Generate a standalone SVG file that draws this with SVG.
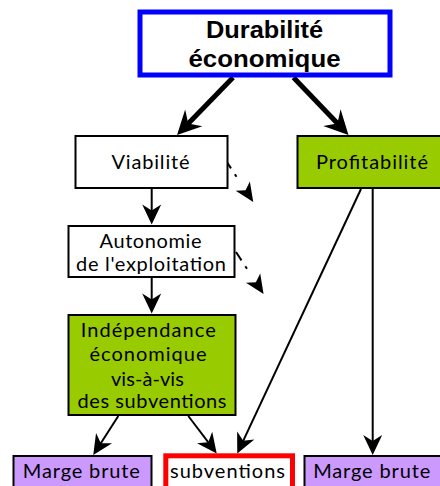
<svg xmlns="http://www.w3.org/2000/svg" width="440" height="486" viewBox="0 0 440 486">
<style>
.box{stroke:#000;stroke-width:2}
.white{fill:#fff}
.green{fill:#99cc00}
.purple{fill:#cc99ff}
.t{font-family:Lato,"Open Sans",sans-serif;font-size:20px;fill:#000;text-anchor:middle}
.tb{font-family:"Liberation Sans",Arial,sans-serif;font-size:24px;font-weight:bold;fill:#000;text-anchor:middle}
.thin{stroke:#000;stroke-width:2;fill:none;marker-end:url(#ah)}
.thick{stroke:#000;stroke-width:5;fill:none;marker-end:url(#ahb)}
.dd{stroke:#000;stroke-width:2;fill:none;stroke-dasharray:10 7 3 40;marker-end:url(#ahd)}
</style>
<defs>
<marker id="ah" markerUnits="userSpaceOnUse" viewBox="-15 -11 22 22" refX="0" refY="0" markerWidth="22" markerHeight="22" orient="auto" overflow="visible">
<path d="M6,0 L-14,-9.5 L-8,0 L-14,9.5 Z" fill="#000"/>
</marker>
<marker id="ahb" markerUnits="userSpaceOnUse" viewBox="-15 -13 30 26" refX="0" refY="0" markerWidth="30" markerHeight="26" orient="auto" overflow="visible">
<path d="M12,0 L-12,-12 L-4,0 L-12,12 Z" fill="#000"/>
</marker>
<marker id="ahd" markerUnits="userSpaceOnUse" viewBox="-15 -9 22 18" refX="0" refY="0" markerWidth="22" markerHeight="18" orient="auto" overflow="visible">
<path d="M5,0 L-14,-8.5 L-9,0 L-14,8.5 Z" fill="#000"/>
</marker>
</defs>

<g id="connectors">
<line class="thick" x1="233" y1="77.5" x2="185.4" y2="126.4"/>
<line class="thick" x1="293.5" y1="77.5" x2="340.2" y2="126.3"/>
<line class="thin" x1="151.7" y1="189" x2="151.7" y2="218.5"/>
<line class="thin" x1="151.7" y1="278" x2="151.7" y2="307.5"/>
<line class="thin" x1="118.3" y1="416" x2="96.5" y2="450"/>
<line class="thin" x1="188.3" y1="416" x2="213.1" y2="448.7"/>
<line class="thin" x1="361" y1="189" x2="239.8" y2="448.1"/>
<line class="thin" x1="372.7" y1="189" x2="372.7" y2="449"/>
<line class="dd" x1="225.5" y1="160" x2="250.5" y2="197.8"/>
<line class="dd" x1="236" y1="252" x2="260.8" y2="289.8"/>
</g>

<g id="durabilite">
<rect x="140" y="12" width="250" height="63" fill="#fff" stroke="#0000ff" stroke-width="5"/>
<text class="tb" x="264.5" y="37.5" textLength="117" lengthAdjust="spacingAndGlyphs">Durabilité</text>
<text class="tb" x="264.5" y="66.5" textLength="152" lengthAdjust="spacingAndGlyphs">économique</text>
</g>

<g id="viabilite">
<rect class="box white" x="75.5" y="136" width="152" height="52"/>
<text class="t" x="150.5" y="169" textLength="78" lengthAdjust="spacing">Viabilité</text>
</g>

<g id="profitabilite">
<rect class="box green" x="297.5" y="136" width="150" height="52"/>
<text class="t" x="372" y="168.5" textLength="112" lengthAdjust="spacing">Profitabilité</text>
</g>

<g id="autonomie">
<rect class="box white" x="68.5" y="226" width="166" height="51"/>
<text class="t" x="150.5" y="247.5" textLength="102" lengthAdjust="spacing">Autonomie</text>
<text class="t" x="151" y="270.5" textLength="150" lengthAdjust="spacing">de l'exploitation</text>
</g>

<g id="independance">
<rect class="box green" x="68.5" y="315" width="167" height="100"/>
<text class="t" x="148.2" y="336.7" textLength="135" lengthAdjust="spacing">Indépendance</text>
<text class="t" x="148" y="360.7" textLength="117" lengthAdjust="spacing">économique</text>
<text class="t" x="147.4" y="385.5" textLength="73" lengthAdjust="spacing">vis-à-vis</text>
<text class="t" x="152" y="407.5" textLength="149" lengthAdjust="spacing">des subventions</text>
</g>

<g id="marge-brute-1">
<rect class="box purple" x="13.5" y="456" width="138" height="40"/>
<text class="t" x="81.3" y="478.3" textLength="117" lengthAdjust="spacing">Marge brute</text>
</g>

<g id="subventions">
<rect x="165.8" y="455.8" width="126.7" height="40" fill="#fff" stroke="#ff0000" stroke-width="5"/>
<text class="t" x="227.5" y="478.3" textLength="115" lengthAdjust="spacing">subventions</text>
</g>

<g id="marge-brute-2">
<rect class="box purple" x="304.5" y="456" width="140" height="40"/>
<text class="t" x="371.7" y="478.3" textLength="117" lengthAdjust="spacing">Marge brute</text>
</g>
</svg>
